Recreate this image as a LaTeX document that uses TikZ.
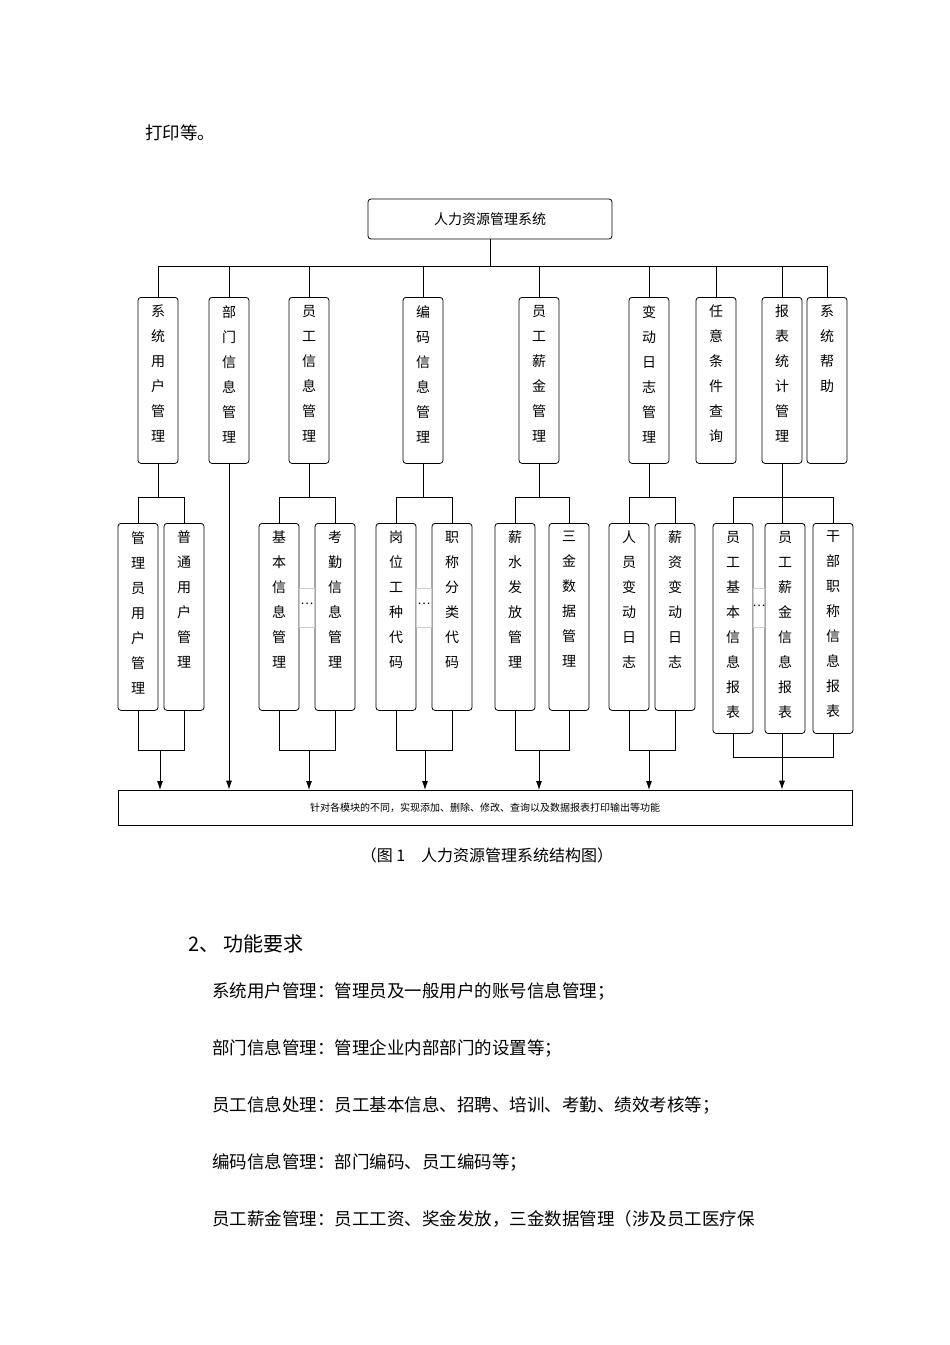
\documentclass[tikz,border=0pt]{standalone}
\usepackage{fontspec}
\setmainfont{Noto Sans CJK SC}
\usetikzlibrary{arrows.meta}
\tikzset{
  box/.style={draw,thick,rounded corners=3pt,minimum width=40pt,inner sep=0pt},
  vtext/.style={align=center,inner sep=0pt,font=\fontsize{14}{25}\selectfont},
  ln/.style={thick},
  arr/.style={thick,-{Latex[length=9pt,width=6pt]}},
  body/.style={anchor=west,inner sep=0pt,font=\fontsize{17.5}{19}\selectfont},
  dotbox/.style={draw=black!20,thin}
}
\newcommand{\vbx}[5]{%
  \node[box,anchor=north,minimum height=#4pt-#3pt] (#1) at (#2,#3) {};
  \node[vtext,anchor=north] (#1t) at (#2,#3+8) {#5};}
\begin{document}
\begin{tikzpicture}[x=1pt,y=-1pt]
\useasboundingbox (0,0) rectangle (950,1345);
\node[body] (t0) at (145,133) {打印等。};
% top
\node[box,minimum width=244pt,minimum height=40pt,font=\fontsize{14}{16}\selectfont] (top) at (490,219) {人力资源管理系统};
\coordinate (bus) at (0,266);
\coordinate (br) at (0,497);
% level 2
\vbx{n1}{158}{297}{463}{系\\统\\用\\户\\管\\理}
\vbx{n2}{229}{297}{463}{部\\门\\信\\息\\管\\理}
\vbx{n3}{309}{297}{463}{员\\工\\信\\息\\管\\理}
\vbx{n4}{423}{297}{463}{编\\码\\信\\息\\管\\理}
\vbx{n5}{539}{297}{463}{员\\工\\薪\\金\\管\\理}
\vbx{n6}{649}{297}{463}{变\\动\\日\\志\\管\\理}
\vbx{n7}{716}{297}{463}{任\\意\\条\\件\\查\\询}
\vbx{n8}{782}{297}{463}{报\\表\\统\\计\\管\\理}
\vbx{n9}{827}{297}{463}{系\\统\\帮\\助}
\draw[ln] (top.south) -- (top.south|-bus);
\draw[ln] (n1.north|-bus) -- (n9.north|-bus);
\foreach \n in {n1,n2,n3,n4,n5,n6,n7,n8,n9} \draw[ln] (\n.north|-bus) -- (\n.north);
% level 3
\vbx{a1}{138}{523}{710}{管\\理\\员\\用\\户\\管\\理}
\vbx{a2}{184}{523}{710}{普\\通\\用\\户\\管\\理}
\vbx{b1}{279}{523}{710}{基\\本\\信\\息\\管\\理}
\vbx{b2}{335}{523}{710}{考\\勤\\信\\息\\管\\理}
\vbx{c1}{396}{523}{710}{岗\\位\\工\\种\\代\\码}
\vbx{c2}{452}{523}{710}{职\\称\\分\\类\\代\\码}
\vbx{d1}{515}{523}{710}{薪\\水\\发\\放\\管\\理}
\vbx{d2}{569}{523}{710}{三\\金\\数\\据\\管\\理}
\vbx{e1}{629}{523}{710}{人\\员\\变\\动\\日\\志}
\vbx{e2}{675}{523}{710}{薪\\资\\变\\动\\日\\志}
\vbx{f1}{733}{523}{733}{员\\工\\基\\本\\信\\息\\报\\表}
\vbx{f2}{785}{523}{733}{员\\工\\薪\\金\\信\\息\\报\\表}
\vbx{f3}{833}{523}{733}{干\\部\\职\\称\\信\\息\\报\\表}
% dots
\draw[dotbox] (b1.east|-0,588) rectangle (b2.west|-0,627);
\draw[dotbox] (c1.east|-0,588) rectangle (c2.west|-0,627);
\draw[dotbox] (f1.east|-0,588) rectangle (f2.west|-0,627);
\node[inner sep=0pt,font=\fontsize{12}{12}\selectfont] (db) at (307,604) {…};
\node[inner sep=0pt,font=\fontsize{12}{12}\selectfont] (dc) at (424,604) {…};
\node[inner sep=0pt,font=\fontsize{12}{12}\selectfont] (df) at (759,606) {…};
% output box
\node[draw,thick,minimum width=734pt,minimum height=35pt,inner sep=0pt,font=\fontsize{10}{12}\selectfont] (out) at (485,807.5) {针对各模块的不同，实现添加、删除、修改、查询以及数据报表打印输出等功能};
% branches
\foreach \p/\x/\y in {n1/a1/a2,n3/b1/b2,n4/c1/c2,n5/d1/d2,n6/e1/e2} {
  \draw[ln] (\p.south) -- (\p.south|-br);
  \draw[ln] (\x.north) -- (\x.north|-br) -- (\y.north|-br) -- (\y.north);
}
\draw[ln] (f1.north) -- (f1.north|-br) -- (f3.north|-br) -- (f3.north);
\draw[ln] (n8.south) -- (n8.south|-f2.north);
% joins
\coordinate (j1) at (0,750);
\coordinate (j2) at (0,757);
\foreach \x/\y/\c in {a1/a2/160,b1/b2/309,c1/c2/425,d1/d2/539,e1/e2/649} {
  \draw[ln] (\x.south) -- (\x.south|-j1) -- (\y.south|-j1) -- (\y.south);
  \draw[arr] (\c,750) -- (\c,790);
}
\draw[arr] (n2.south) -- (n2.south|-out.north);
\draw[ln] (f1.south) -- (f1.south|-j2) -- (f3.south|-j2) -- (f3.south);
\draw[arr] (n8.south|-f2.south) -- (n8.south|-out.north);
% caption and text
\node[inner sep=0pt,font=\fontsize{16}{18}\selectfont] (cap) at (487,855) {（图 1\quad 人力资源管理系统结构图）};
\node[body,font=\fontsize{20}{22}\selectfont] (h2) at (188,944) {2、 功能要求};
\node[body] (l1) at (212,991) {系统用户管理：管理员及一般用户的账号信息管理；};
\node[body] (l2) at (212,1048) {部门信息管理：管理企业内部部门的设置等；};
\node[body] (l3) at (212,1105) {员工信息处理：员工基本信息、招聘、培训、考勤、绩效考核等；};
\node[body] (l4) at (212,1162) {编码信息管理：部门编码、员工编码等；};
\node[body] (l5) at (212,1219) {员工薪金管理：员工工资、奖金发放，三金数据管理（涉及员工医疗保};
\end{tikzpicture}
\end{document}
